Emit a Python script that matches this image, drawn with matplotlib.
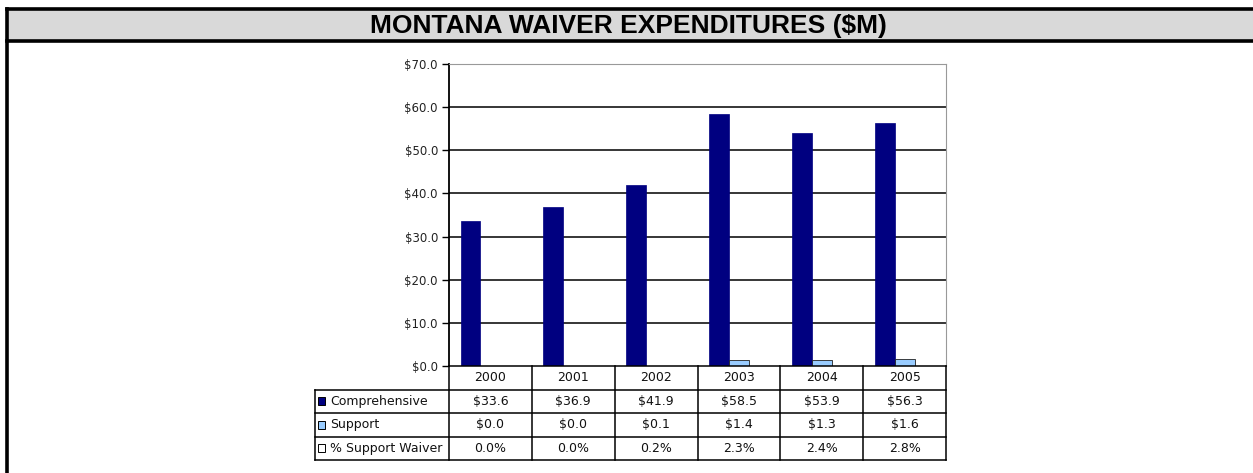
import matplotlib.pyplot as plt
import numpy as np
from matplotlib.patches import Rectangle
from matplotlib.lines import Line2D


# chart data
years = ['2000', '2001', '2002', '2003', '2004', '2005']
comprehensive = [33.6, 36.9, 41.9, 58.5, 53.9, 56.3]
support = [0.0, 0.0, 0.1, 1.4, 1.3, 1.6]
pct_support = [0.000, 0.000, 0.002, 0.023, 0.024, 0.028]
series_names = ['Comprehensive', 'Support', '% Support Waiver']
y_ticks = [0, 10, 20, 30, 40, 50, 60, 70]

NAVY = '#000080'
LIGHT = '#99ccff'
W, H = 1253, 473


def px(x0, y0, x1, y1):
    """convert a pixel box (top-left origin) to figure fractions"""
    return [x0 / W, 1 - y1 / H, (x1 - x0) / W, (y1 - y0) / H]


fig = plt.figure(figsize=(W / 100, H / 100), dpi=100)
fig.patch.set_facecolor('white')

# page frame with the grey title band
fig.add_artist(Rectangle((7 / W, 1 - 41 / H), 1.0, 32 / H,
                         transform=fig.transFigure, facecolor='#d9d9d9',
                         edgecolor='none'))
for yy in (9, 41):
    fig.add_artist(Line2D([7 / W, 1], [1 - yy / H, 1 - yy / H],
                          transform=fig.transFigure, color='black', lw=2.6))
fig.add_artist(Line2D([7 / W, 7 / W], [0, 1 - 9 / H],
                      transform=fig.transFigure, color='black', lw=2.6))
fig.text(628 / W, 1 - 25.5 / H, 'MONTANA WAIVER EXPENDITURES ($M)',
         ha='center', va='center', fontsize=19, fontweight='bold',
         family='Liberation Sans')

# bar chart
left, right = 449, 946
ax = fig.add_axes(px(left, 64, right, 366))
x = np.arange(len(years))
bw = 0.24
ax.bar(x - bw, comprehensive, bw, color=NAVY, edgecolor=NAVY, lw=0.5, zorder=3)
ax.bar(x, support, bw, color=LIGHT, edgecolor='#202020', lw=0.6, zorder=3)
ax.bar(x + bw, pct_support, bw, color='white', edgecolor='#202020', lw=0.6,
       zorder=3)
ax.set_xlim(-0.5, len(years) - 0.5)
ax.set_ylim(0, 70)
ax.set_yticks(y_ticks)
ax.set_yticklabels([f'${v:.1f}' for v in y_ticks], fontsize=8.5,
                   family='DejaVu Sans', color='#222222')
ax.set_xticks([])
for v in y_ticks[1:-1]:
    ax.axhline(v, color='black', lw=1.1, zorder=1)
ax.spines['top'].set_color('#999999')
ax.spines['right'].set_color('#999999')
ax.spines['left'].set_linewidth(1.3)
ax.spines['bottom'].set_visible(False)
ax.tick_params(axis='y', length=5, width=1, pad=3)

# data table under the chart, columns aligned with the bar groups
tab = fig.add_axes(px(left, 366, right, 460))
tab.set_xlim(-0.5, len(years) - 0.5)
tab.set_ylim(4, 0)
tab.axis('off')
col_px = (right - left) / len(years)
label_left = -0.5 - (left - 315) / col_px
lk = dict(color='black', lw=1.1, clip_on=False)
tab.plot([-0.5, len(years) - 0.5], [0, 0], **lk)
for r in range(1, 5):
    tab.plot([label_left, len(years) - 0.5], [r, r], **lk)
tab.plot([label_left, label_left], [1, 4], **lk)
for c in range(len(years) + 1):
    tab.plot([c - 0.5, c - 0.5], [0, 4], **lk)

tk = dict(ha='center', va='center', fontsize=9, family='DejaVu Sans',
          color='#111111')
rows = [[f'${v:.1f}' for v in comprehensive],
        [f'${v:.1f}' for v in support],
        [f'{v * 100:.1f}%' for v in pct_support]]
for i, yr in enumerate(years):
    tab.text(i, 0.5, yr, **tk)
    for r, vals in enumerate(rows):
        tab.text(i, r + 1.5, vals[i], **tk)

swatches = [NAVY, LIGHT, 'white']
sw_w = 7 / col_px
for r, (name, colr) in enumerate(zip(series_names, swatches)):
    tab.add_patch(Rectangle((label_left + 3 / col_px, r + 1.5 - 0.17), sw_w,
                            0.34, facecolor=colr, edgecolor='black', lw=0.7,
                            clip_on=False))
    tab.text(label_left + 15 / col_px, r + 1.5, name, ha='left', va='center',
             fontsize=9, family='DejaVu Sans', color='#111111')

fig.savefig('out.png', dpi=100)
